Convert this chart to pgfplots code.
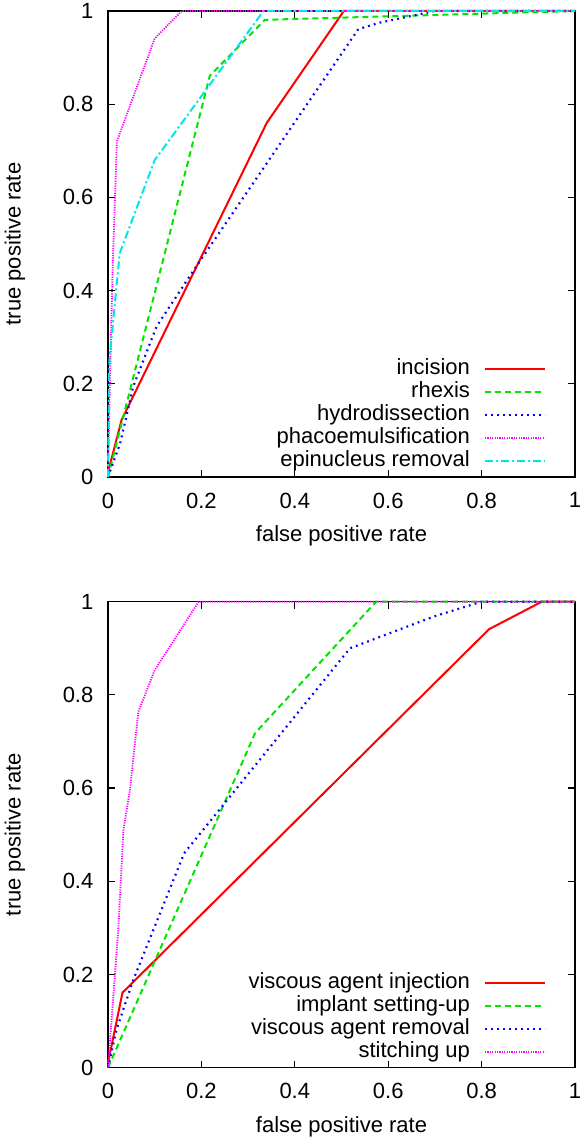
\documentclass[border=0pt]{standalone}
\usepackage{fontspec}
\setmainfont{Liberation Sans}
\usepackage{pgfplots}
\pgfplotsset{compat=1.18}

\definecolor{gpred}{rgb}{1,0,0}
\definecolor{gpgreen}{rgb}{0,0.9,0}
\definecolor{gpblue}{rgb}{0,0,1}
\definecolor{gpmagenta}{rgb}{1,0,1}
\definecolor{gpcyan}{rgb}{0,0.9,0.9}

% gnuplot look: two square ROC panels
\pgfplotsset{
  rocaxis/.style={
    scale only axis,
    width=233.5pt, height=233pt,
    xmin=0, xmax=1, ymin=0, ymax=1,
    xtick={0,0.2,...,1}, ytick={0,0.2,...,1},
    tick align=inside, tick pos=both,
    major tick length=3.5pt,
    axis line style={line width=0.8pt},
    every tick/.style={black, line width=0.6pt},
    /pgf/number format/assume math mode=true,
    font=\fontsize{11}{12}\selectfont,
    xticklabel style={yshift=-4.3pt},
    yticklabel style={xshift=-3.8pt},
    xlabel={false positive rate},
    ylabel={true positive rate},
    xlabel style={at={(0.5,0)}, anchor=center, yshift=-29.5pt},
    ylabel style={at={(0,0.5)}, anchor=center, yshift=46.5pt},
    clip=false,
    legend cell align=right,
    legend plot pos=right,
    legend style={draw=none, fill=none, anchor=south east,
      at={(0.939,0.011)}, inner sep=0pt, row sep=1pt, column sep=7pt,
      nodes={inner sep=0pt, text height=8pt, text depth=2.5pt},
      font=\fontsize{11}{12}\selectfont},
    legend image code/.code={\draw[#1] (0pt,0pt) -- (30pt,0pt);},
  },
  l1/.style={gpred, line width=1pt},
  l2/.style={gpgreen, line width=1pt, dash pattern=on 3pt off 2pt},
  l3/.style={gpblue, line width=1.1pt, dash pattern=on 0.9pt off 2.1pt},
  l4/.style={gpmagenta, line width=0.9pt, dash pattern=on 0.6pt off 0.6pt},
  l5/.style={gpcyan, line width=1pt, dash pattern=on 4pt off 1.5pt on 1pt off 1.5pt},
}

\begin{document}
\begin{tikzpicture}[x=1pt,y=1pt]
\path[use as bounding box] (0,0) rectangle (289.5,569);

% top panel
\begin{axis}[rocaxis, at={(54pt,330.5pt)}, anchor=origin]
\addplot[l1] coordinates {(0,0.01) (0.029,0.122) (0.34,0.76) (0.505,1) (1,1)};
\addlegendentry{incision}
\addplot[l2] coordinates {(0,0) (0.218,0.861) (0.336,0.981) (1,1)};
\addlegendentry{rhexis}
\addplot[l3] coordinates {(0,0) (0.026,0.072) (0.054,0.194) (0.104,0.323) (0.179,0.437) (0.536,0.961) (0.582,0.975) (0.70,1) (1,1)};
\addlegendentry{hydrodissection}
\addplot[l4] coordinates {(0,0) (0.004,0.2) (0.01,0.45) (0.019,0.72) (0.10,0.941) (0.158,1) (1,1)};
\addlegendentry{phacoemulsification}
\addplot[l5] coordinates {(0,0) (0.003,0.25) (0.025,0.48) (0.10,0.68) (0.333,1) (1,1)};
\addlegendentry{epinucleus removal}
\end{axis}

% bottom panel
\begin{axis}[rocaxis, at={(54pt,35.15pt)}, anchor=origin]
\addplot[l1] coordinates {(0,0.01) (0.031,0.161) (0.816,0.941) (0.929,1) (1,1)};
\addlegendentry{viscous agent injection}
\addplot[l2] coordinates {(0,0) (0.315,0.718) (0.574,1) (1,1)};
\addlegendentry{implant setting-up}
\addplot[l3] coordinates {(0,0) (0.018,0.081) (0.054,0.188) (0.163,0.46) (0.518,0.90) (0.697,0.968) (0.80,1) (1,1)};
\addlegendentry{viscous agent removal}
\addplot[l4] coordinates {(0,0) (0.022,0.296) (0.033,0.51) (0.047,0.596) (0.065,0.764) (0.10,0.853) (0.194,1) (1,1)};
\addlegendentry{stitching up}
\end{axis}
\end{tikzpicture}
\end{document}
